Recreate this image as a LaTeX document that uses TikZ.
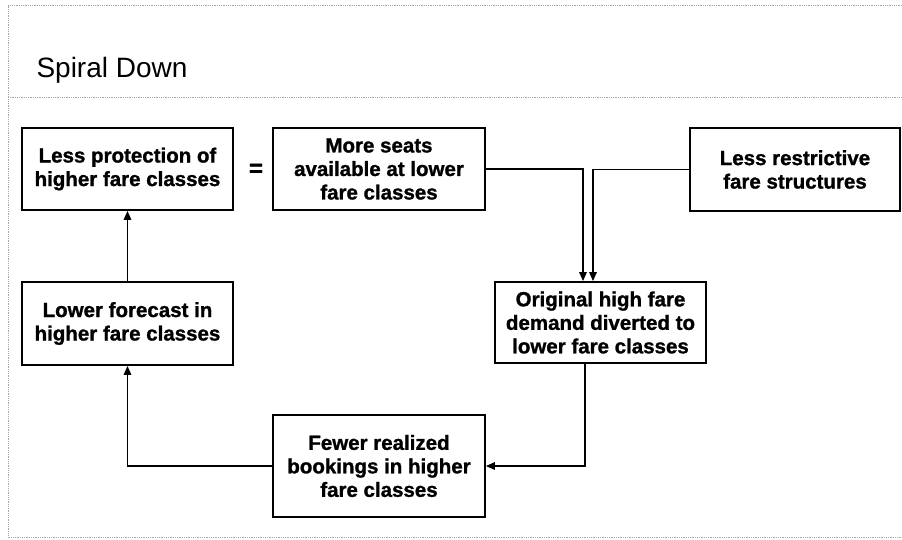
\documentclass[tikz,border=0pt]{standalone}
\usepackage{fontspec}
\setmainfont{Liberation Sans}
\newfontfamily\heavyfont[FakeBold=1.2]{Liberation Sans Bold}
\usetikzlibrary{arrows.meta}
\begin{document}
\begin{tikzpicture}[x=1pt,y=-1pt,
  box/.style={draw=black, line width=1.8pt, align=center, inner sep=2pt,
    font=\heavyfont\fontsize{20.5}{23.5}\selectfont},
  conn/.style={line width=1.5pt, -{Triangle[length=9pt,width=7.5pt]}},
  frameline/.style={draw=gray!70, line width=0.8pt, densely dotted}]
\useasboundingbox (0,0) rectangle (902,539);
% frame
\draw[frameline] (902,5) -- (8,5) -- (8,537) -- (902,537);
\draw[frameline] (8,97) -- (902,97);
\node[anchor=base west, font=\fontsize{28}{32}\selectfont] (title) at (33,77) {Spiral Down};
% boxes
\node[box, minimum width=211pt, minimum height=82pt] (b1) at (127.5,169) {Less protection of\\higher fare classes};
\node[box, minimum width=212pt, minimum height=82pt] (b2) at (379,169) {More seats\\available at lower\\fare classes};
\node[box, minimum width=210pt, minimum height=83pt] (b3) at (795,169.5) {Less restrictive\\fare structures};
\node[box, minimum width=211pt, minimum height=83pt] (lower) at (127.5,323.5) {Lower forecast in\\higher fare classes};
\node[box, minimum width=211pt, minimum height=81pt] (orig) at (600.5,322.5) {Original high fare\\demand diverted to\\lower fare classes};
\node[box, minimum width=212pt, minimum height=102pt] (fewer) at (379,466) {Fewer realized\\bookings in higher\\fare classes};
\node[font=\heavyfont\fontsize{24}{28}\selectfont] (eq) at (256,170) {=};
% connectors
\draw[conn] (lower.north) -- (b1.south);
\draw[conn] (b2.east) -| ([xshift=-17.5pt]orig.north);
\draw[conn] (b3.west) -| ([xshift=-7.5pt]orig.north);
\draw[conn] ([xshift=-15.5pt]orig.south) |- (fewer.east);
\draw[conn] (fewer.west) -| (lower.south);
\end{tikzpicture}
\end{document}
